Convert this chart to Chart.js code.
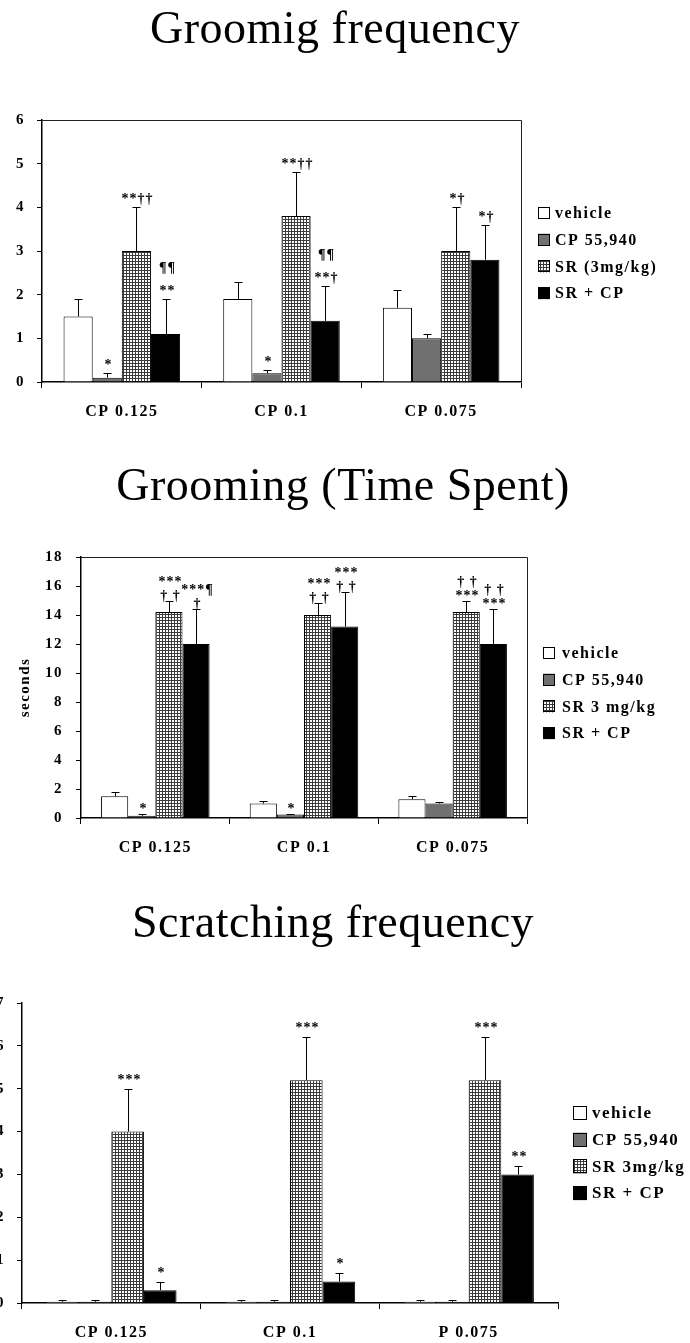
<!DOCTYPE html>
<html>
<head>
<meta charset="utf-8">
<script src="https://cdn.jsdelivr.net/npm/chart.js@4/dist/chart.umd.min.js"></script>
<style>
body { margin: 0; background: #fff; width: 690px; height: 1343px; overflow: hidden; position: relative; }
.box { position: absolute; }
</style>
</head>
<body>
<div class="box" style="left:0;top:0"><canvas id="c1" width="690" height="440"></canvas></div>
<div class="box" style="left:0;top:440px"><canvas id="c2" width="690" height="430"></canvas></div>
<div class="box" style="left:-20px;top:870px"><canvas id="c3" width="710" height="473"></canvas></div>
<script>
// group labels and series names
var groups = ['CP 0.125', 'CP 0.1', 'CP 0.075'];
var groupsScratch = ['CP 0.125', 'CP 0.1', 'P 0.075'];
var namesFreq = ['vehicle', 'CP 55,940', 'SR (3mg/kg)', 'SR + CP'];
var namesTime = ['vehicle', 'CP 55,940', 'SR 3 mg/kg', 'SR + CP'];
var namesScratch = ['vehicle', 'CP 55,940', 'SR 3mg/kg', 'SR + CP'];

// grooming frequency
var freqVehicle = [1.5, 1.9, 1.7];
var freqCP = [0.1, 0.2, 1.0];
var freqSR = [3.0, 3.8, 3.0];
var freqSRCP = [1.1, 1.4, 2.8];
var freqVehicleErr = [0.4, 0.4, 0.4];
var freqCPErr = [0.1, 0.07, 0.1];
var freqSRErr = [1.0, 1.0, 1.0];
var freqSRCPErr = [0.8, 0.8, 0.8];
var freqVehicleMarks = ['', '', ''];
var freqCPMarks = ['*', '*', ''];
var freqSRMarks = ['**††', '**††', '*†'];
var freqSRCPMarks = ['¶¶\n**', '¶¶\n**†', '*†'];

// grooming time spent (seconds)
var timeVehicle = [1.5, 1.0, 1.3];
var timeCP = [0.15, 0.25, 1.0];
var timeSR = [14.2, 14.0, 14.2];
var timeSRCP = [12.0, 13.2, 12.0];
var timeVehicleErr = [0.3, 0.2, 0.2];
var timeCPErr = [0.1, 0.05, 0.1];
var timeSRErr = [0.8, 0.8, 0.8];
var timeSRCPErr = [2.4, 2.4, 2.4];
var timeVehicleMarks = ['', '', ''];
var timeCPMarks = ['*', '*', ''];
var timeSRMarks = ['***\n† †', '***\n† †', '† †\n***'];
var timeSRCPMarks = ['***¶\n†', '***\n† †', '† †\n***'];

// scratching frequency
var scrVehicle = [0.03, 0.03, 0.03];
var scrCP = [0.03, 0.03, 0.03];
var scrSR = [4.0, 5.2, 5.2];
var scrSRCP = [0.3, 0.5, 3.0];
var scrVehicleErr = [0.03, 0.03, 0.03];
var scrCPErr = [0.03, 0.03, 0.03];
var scrSRErr = [1.0, 1.0, 1.0];
var scrSRCPErr = [0.2, 0.2, 0.2];
var scrVehicleMarks = ['', '', ''];
var scrCPMarks = ['', '', ''];
var scrSRMarks = ['***', '***', '***'];
var scrSRCPMarks = ['*', '*', '**'];

var SERIF = "'Liberation Serif', 'Times New Roman', serif";

function gridPattern() {
  var c = document.createElement('canvas');
  c.width = 3; c.height = 3;
  var g = c.getContext('2d');
  g.fillStyle = '#fff'; g.fillRect(0, 0, 3, 3);
  g.fillStyle = '#3a3a3a';
  g.fillRect(0, 0, 3, 1);
  g.fillRect(0, 0, 1, 3);
  return g.createPattern(c, 'repeat');
}
var fills = ['#ffffff', '#707070', gridPattern(), '#000000'];

// spacing for bold labels (scan looks wider than plain Times)
var spacing = {
  id: 'spacing',
  beforeDraw: function(chart) { chart.ctx.letterSpacing = '1.5px'; },
  afterDraw: function(chart) { chart.ctx.letterSpacing = '0px'; }
};

var errorBars = {
  id: 'errorBars',
  afterDatasetsDraw: function(chart, args, opts) {
    var ctx = chart.ctx, y = chart.scales.y;
    ctx.save();
    ctx.strokeStyle = '#000';
    ctx.fillStyle = '#000';
    ctx.lineWidth = 1;
    ctx.font = 'bold 14px ' + SERIF;
    ctx.letterSpacing = '1px';
    ctx.textAlign = 'center';
    ctx.textBaseline = 'alphabetic';
    chart.data.datasets.forEach(function(ds, i) {
      chart.getDatasetMeta(i).data.forEach(function(bar, j) {
        var top = y.getPixelForValue(ds.data[j] + ds.errors[j]);
        var x = Math.round(bar.x) + 0.5;
        ctx.beginPath();
        ctx.moveTo(x, bar.y);
        ctx.lineTo(x, Math.round(top) + 0.5);
        ctx.moveTo(x - opts.cap, Math.round(top) + 0.5);
        ctx.lineTo(x + opts.cap, Math.round(top) + 0.5);
        ctx.stroke();
        var lines = ds.marks[j] ? ds.marks[j].split('\n') : [];
        for (var k = lines.length - 1; k >= 0; k--) {
          var base = top - opts.gap - (lines.length - 1 - k) * opts.lineGap;
          ctx.fillText(lines[k], x + 1, base);
        }
      });
    });
    ctx.restore();
  }
};

var frame = {
  id: 'frame',
  afterDraw: function(chart, args, opts) {
    if (!opts.show) return;
    var a = chart.chartArea, ctx = chart.ctx;
    ctx.save();
    ctx.strokeStyle = '#222';
    ctx.lineWidth = 1;
    ctx.beginPath();
    ctx.moveTo(a.left, Math.round(a.top) + 0.5);
    ctx.lineTo(Math.round(a.right) + 0.5, Math.round(a.top) + 0.5);
    ctx.lineTo(Math.round(a.right) + 0.5, a.bottom);
    ctx.stroke();
    ctx.restore();
  }
};

var caption = {
  id: 'caption',
  afterDraw: function(chart, args, opts) {
    var ctx = chart.ctx;
    ctx.save();
    ctx.letterSpacing = '0.5px';
    ctx.font = '46px ' + SERIF;
    ctx.fillStyle = '#000';
    ctx.textAlign = 'center';
    ctx.textBaseline = 'alphabetic';
    ctx.fillText(opts.text, opts.x, opts.y);
    ctx.restore();
  }
};

var keyBox = {
  id: 'keyBox',
  afterDraw: function(chart, args, opts) {
    var ctx = chart.ctx;
    ctx.save();
    ctx.letterSpacing = '1.5px';
    ctx.font = 'bold ' + opts.size + 'px ' + SERIF;
    ctx.textAlign = 'left';
    ctx.textBaseline = 'middle';
    chart.data.datasets.forEach(function(ds, i) {
      var cy = opts.y + i * opts.step;
      var s = opts.box;
      ctx.fillStyle = ds.backgroundColor;
      ctx.fillRect(opts.x, cy - s / 2, s, s);
      ctx.strokeStyle = '#000';
      ctx.lineWidth = 1;
      ctx.strokeRect(opts.x + 0.5, Math.round(cy - s / 2) + 0.5, s - 1, s - 1);
      ctx.fillStyle = '#000';
      ctx.fillText(ds.label, opts.textX, cy + 1);
    });
    ctx.restore();
  }
};

function makeChart(id, labels, names, values, errors, marks, set) {
  var datasets = names.map(function(n, i) {
    return {
      label: n,
      data: values[i],
      errors: errors[i],
      marks: marks[i],
      backgroundColor: fills[i],
      borderColor: '#000',
      borderWidth: 1,
      categoryPercentage: 0.73,
      barPercentage: 1.0
    };
  });
  return new Chart(document.getElementById(id), {
    type: 'bar',
    data: { labels: labels, datasets: datasets },
    plugins: [spacing, errorBars, frame, caption, keyBox],
    options: {
      responsive: false,
      animation: false,
      devicePixelRatio: 1,
      layout: { padding: set.padding },
      plugins: {
        legend: { display: false },
        tooltip: { enabled: false },
        errorBars: { cap: set.cap, gap: set.gap, lineGap: set.lineGap },
        frame: { show: set.frame },
        caption: set.caption,
        keyBox: set.key
      },
      scales: {
        x: {
          grid: { display: true, drawOnChartArea: false, drawTicks: true, tickLength: 6, color: '#000', offset: true },
          border: { display: true, color: '#000', width: 1.5 },
          ticks: { color: '#000', padding: set.xPad, maxRotation: 0, autoSkip: false,
                   font: { family: SERIF, size: 16, weight: 'bold' } },
          afterFit: function(s) { s.height = set.xHeight; }
        },
        y: {
          min: 0, max: set.yMax,
          grid: { display: true, drawOnChartArea: false, drawTicks: true, tickLength: 5, color: '#000' },
          border: { display: true, color: '#000', width: 1.5 },
          ticks: { stepSize: set.yStep, color: '#000', padding: set.yPad,
                   font: { family: SERIF, size: 15, weight: 'bold' } },
          title: set.yTitle,
          afterFit: function(s) { s.width = set.yWidth; }
        }
      }
    }
  });
}

makeChart('c1', groups, namesFreq,
  [freqVehicle, freqCP, freqSR, freqSRCP],
  [freqVehicleErr, freqCPErr, freqSRErr, freqSRCPErr],
  [freqVehicleMarks, freqCPMarks, freqSRMarks, freqSRCPMarks],
  {
    padding: { left: 0, top: 120, right: 169, bottom: 18 },
    yWidth: 42, xHeight: 40, xPad: 14, yPad: 12, yMax: 6, yStep: 1,
    cap: 4, gap: 4, lineGap: 23, frame: true,
    yTitle: { display: false },
    caption: { text: 'Groomig frequency', x: 335, y: 43 },
    key: { x: 538, y: 213, step: 26.7, box: 12, textX: 555, size: 16 }
  });

makeChart('c2', groups, namesTime,
  [timeVehicle, timeCP, timeSR, timeSRCP],
  [timeVehicleErr, timeCPErr, timeSRErr, timeSRCPErr],
  [timeVehicleMarks, timeCPMarks, timeSRMarks, timeSRCPMarks],
  {
    padding: { left: 0, top: 117, right: 163, bottom: 12 },
    yWidth: 81, xHeight: 40, xPad: 14, yPad: 13, yMax: 18, yStep: 2,
    cap: 4, gap: 1, lineGap: 14, frame: true,
    yTitle: { display: true, text: 'seconds', color: '#000', padding: { top: 16, bottom: 0 },
              font: { family: SERIF, size: 15, weight: 'bold' } },
    caption: { text: 'Grooming (Time Spent)', x: 343, y: 60 },
    key: { x: 543, y: 213, step: 26.7, box: 12, textX: 562, size: 16 }
  });

makeChart('c3', groupsScratch, namesScratch,
  [scrVehicle, scrCP, scrSR, scrSRCP],
  [scrVehicleErr, scrCPErr, scrSRErr, scrSRCPErr],
  [scrVehicleMarks, scrCPMarks, scrSRMarks, scrSRCPMarks],
  {
    padding: { left: 0, top: 133, right: 132, bottom: 2 },
    yWidth: 42, xHeight: 38, xPad: 14, yPad: 12, yMax: 7, yStep: 1,
    cap: 4, gap: 5, lineGap: 14, frame: false,
    yTitle: { display: false },
    caption: { text: 'Scratching frequency', x: 353, y: 67 },
    key: { x: 593, y: 243, step: 26.7, box: 14, textX: 612, size: 17 }
  });
</script>
</body>
</html>
